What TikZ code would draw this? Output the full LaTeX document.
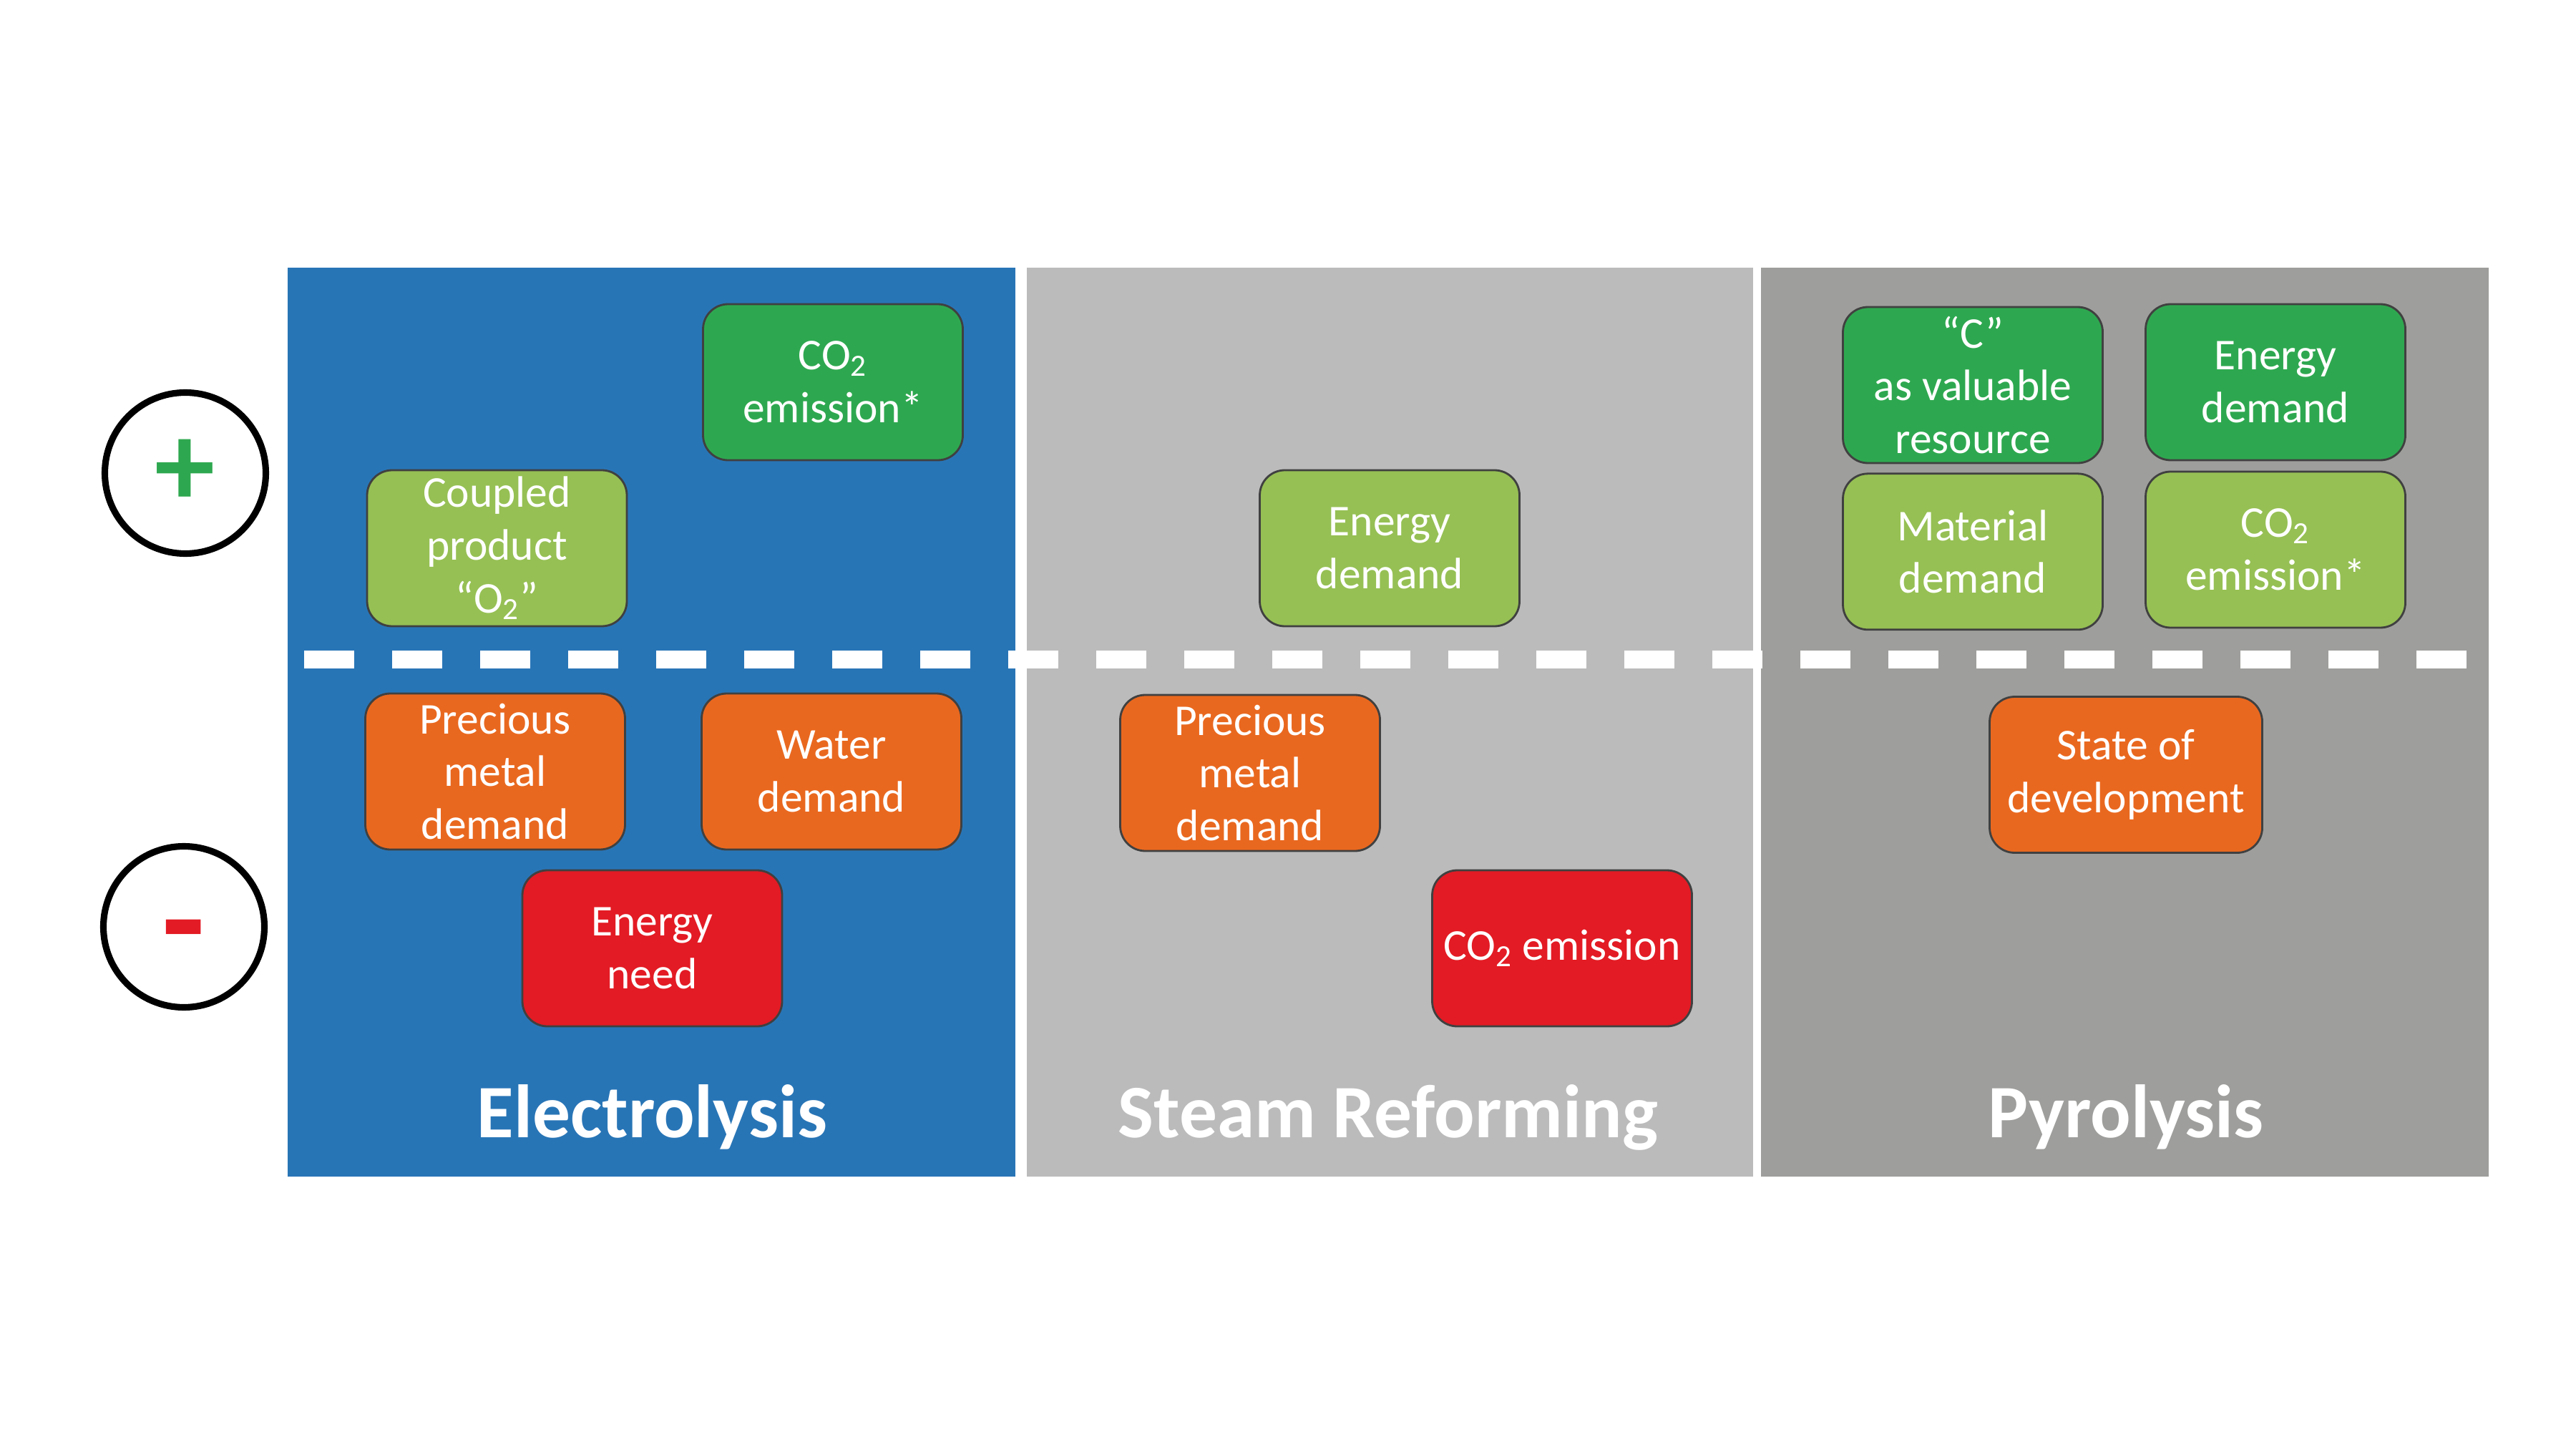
\documentclass[tikz,border=0pt]{standalone}
\usepackage{fontspec}
\setmainfont{Carlito}
\usepackage{xcolor}
\usetikzlibrary{positioning}
\definecolor{eblue}{RGB}{40,117,182}
\definecolor{lgray}{RGB}{187,187,187}
\definecolor{dgray}{RGB}{158,158,156}
\definecolor{dgreen}{RGB}{46,168,80}
\definecolor{lgreen}{RGB}{150,192,84}
\definecolor{qorange}{RGB}{233,104,31}
\definecolor{qred}{RGB}{227,27,36}

\begin{document}
\begin{tikzpicture}[
  card/.style={draw=black!75, line width=0.8pt, rounded corners=0.35cm,
    minimum width=3.63cm, minimum height=2.18cm, inner sep=0pt,
    align=center, text=white, font=\fontsize{17.5}{21}\selectfont},
  title/.style={anchor=base, text=white, font=\fontsize{30}{35}\selectfont\bfseries},
  sign/.style={circle, draw=black, line width=2.6pt, minimum size=2.25cm, inner sep=0pt}
]%

\def\ytop{16.51}
\def\ybot{3.81}
\def\ydash{11.04}
\def\ytitle{4.36}

\useasboundingbox (0,0) rectangle (36,20.25);

%panels
\fill[eblue] (4.02,\ybot) rectangle (14.19,\ytop);
\fill[lgray] (14.35,\ybot) rectangle (24.50,\ytop);
\fill[dgray] (24.61,\ybot) rectangle (34.78,\ytop);

%plus / minus split
\draw[white, line width=0.25cm, dash pattern=on 0.7cm off 0.53cm] (4.25,\ydash) -- (34.9,\ydash);

%signs
\node[sign, text=dgreen, font=\fontsize{48}{48}\selectfont\bfseries] (plus) at (2.59,13.64) {+};
\node[sign, text=qred, font=\fontsize{56}{56}\selectfont\bfseries,
  text height=32pt, text depth=0pt] (minus) at (2.57,7.30) {-};

%electrolysis
\node[card, fill=dgreen] (eco) at (11.64,14.91) {CO\textsubscript{2}\\emission*};
\node[card, fill=lgreen] (eoxy) at (6.945,12.59) {Coupled\\product\\“O\textsubscript{2}”};
\node[card, fill=qorange] (emetal) at (6.92,9.47) {Precious\\metal\\demand};
\node[card, fill=qorange] (ewater) at (11.62,9.47) {Water\\demand};
\node[card, fill=qred] (eneed) at (9.115,7.0) {Energy\\need};
\node[title] (elabel) at (9.115,\ytitle) {Electrolysis};

%steam reforming
\node[card, fill=lgreen] (senergy) at (19.42,12.59) {Energy\\demand};
\node[card, fill=qorange] (smetal) at (17.47,9.45) {Precious\\metal\\demand};
\node[card, fill=qred] (sco) at (21.83,7.0) {CO\textsubscript{2} emission};
\node[title] (slabel) at (19.40,\ytitle) {Steam Reforming};

%pyrolysis
\node[card, fill=dgreen] (pcarbon) at (27.57,14.87) {“C”\\as valuable\\resource};
\node[card, fill=dgreen] (penergy) at (31.80,14.91) {Energy\\demand};
\node[card, fill=lgreen, below=0.12cm of pcarbon] (pmaterial) {Material\\demand};
\node[card, fill=lgreen] (pco) at (31.80,12.57) {CO\textsubscript{2}\\emission*};
\node[card, fill=qorange, minimum width=3.81cm] (pstate) at (29.71,9.425) {State of\\development};
\node[title] (plabel) at (29.71,\ytitle) {Pyrolysis};

\end{tikzpicture}
\end{document}
